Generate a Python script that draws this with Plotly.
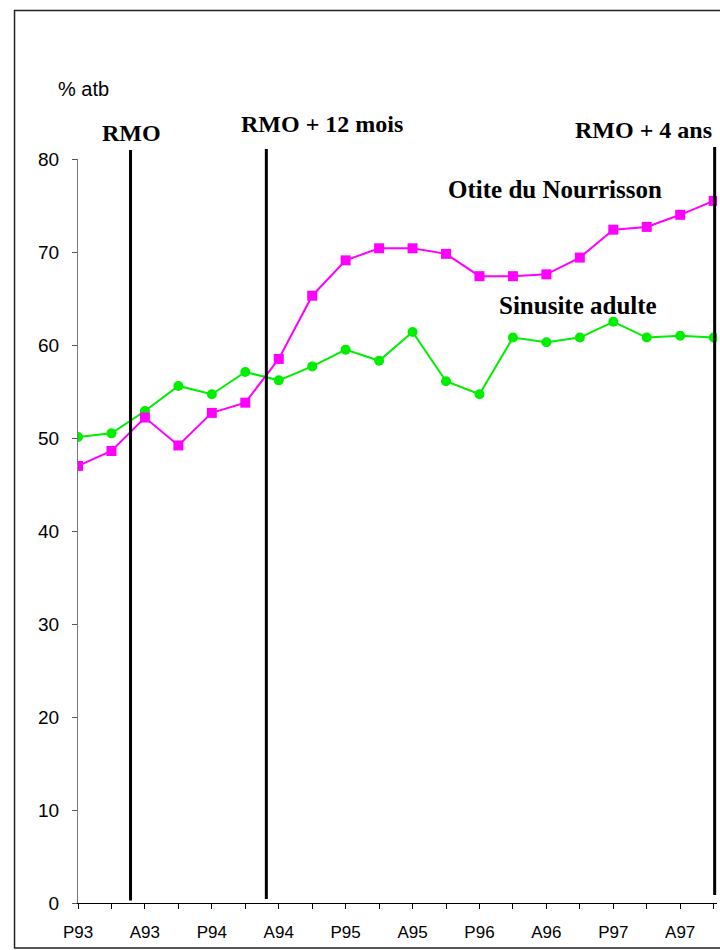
import plotly.graph_objects as go

# ---- data ----
tick_labels = ["P93", "", "A93", "", "P94", "", "A94", "", "P95", "", "A95", "",
               "P96", "", "A96", "", "P97", "", "A97", ""]
positions = list(range(len(tick_labels)))
otite = [47.0, 48.6, 52.2, 49.2, 52.7, 53.8, 58.5, 65.3, 69.1, 70.4,
         70.4, 69.8, 67.4, 67.4, 67.6, 69.4, 72.4, 72.7, 74.0, 75.5]
sinusite = [50.1, 50.5, 52.9, 55.6, 54.7, 57.1, 56.2, 57.7, 59.5, 58.3,
            61.4, 56.1, 54.7, 60.8, 60.3, 60.8, 62.5, 60.8, 61.0, 60.8]
events = ["RMO", "RMO + 12 mois", "RMO + 4 ans"]
event_pos = [1.57, 5.63, 19.03]
y_ticks = [0, 10, 20, 30, 40, 50, 60, 70, 80]

W, H = 720, 950
L, T, Bpix = 78, 159, 903   # plot left, top, bottom (px)
B = H - Bpix
xr = [0, 19.1]
unit = 636 / 19.0
pw = unit * (xr[1] - xr[0])
R = W - L - pw
ph = Bpix - T

def px(page_x):
    return (page_x - L) / pw

def py(page_y):
    return (Bpix - page_y) / ph

fig = go.Figure()
fig.add_trace(go.Scatter(
    x=positions, y=sinusite, mode="lines+markers", name="Sinusite adulte",
    line=dict(color="#00EE00", width=2),
    marker=dict(symbol="circle", size=10, color="#00EE00"),
    hoverinfo="skip", showlegend=False))
fig.add_trace(go.Scatter(
    x=positions, y=otite, mode="lines+markers", name="Otite du Nourrisson",
    line=dict(color="#FF00FF", width=2),
    marker=dict(symbol="square", size=10, color="#FF00FF"),
    hoverinfo="skip", showlegend=False))

# vertical event lines
tops = [150, 149, 147]
bots = [900.5, 899, 895]
for xp, t, b in zip(event_pos, tops, bots):
    fig.add_shape(type="line", xref="x", yref="paper", x0=xp, x1=xp,
                  y0=py(b), y1=py(t), line=dict(color="black", width=3),
                  layer="above")

ann = [
    ("<b>RMO</b>", 132, 133, 24),
    ("<b>RMO + 12 mois</b>", 322, 124, 24),
    ("<b>RMO + 4 ans</b>", 644, 130, 24),
    ("<b>Otite du Nourrisson</b>", 555, 190, 25),
    ("<b>Sinusite adulte</b>", 578, 305, 25),
]
for txt, cx, cy, fs in ann:
    fig.add_annotation(text=txt, xref="paper", yref="paper",
                       x=px(cx), y=py(cy), xanchor="center", yanchor="middle",
                       showarrow=False,
                       font=dict(family="Liberation Serif", size=fs, color="black"))

fig.add_annotation(text="% atb", xref="paper", yref="paper",
                   x=px(56), y=py(89), xanchor="left", yanchor="middle",
                   showarrow=False,
                   font=dict(family="Liberation Sans", size=20, color="black"))

# outer frame
fig.add_shape(type="rect", xref="paper", yref="paper",
              x0=px(14.5), x1=px(740), y0=py(948), y1=py(10.5),
              line=dict(color="#222222", width=1.5), layer="below")

fig.update_layout(
    width=W, height=H,
    margin=dict(l=L, r=R, t=T, b=B, pad=0),
    paper_bgcolor="white", plot_bgcolor="white",
    xaxis=dict(range=xr, tickmode="array", tickvals=positions, ticktext=tick_labels,
               showline=True, linecolor="black", linewidth=1,
               ticks="outside", ticklen=5, tickcolor="black", tickwidth=1,
               showgrid=False, zeroline=False,
               tickfont=dict(family="Liberation Sans", size=17, color="black"),
               ticklabelstandoff=9),
    yaxis=dict(range=[0, 80], tickmode="array", tickvals=y_ticks,
               showline=True, linecolor="#777777", linewidth=1,
               ticks="outside", ticklen=5, tickcolor="#555555", tickwidth=1,
               showgrid=False, zeroline=False,
               tickfont=dict(family="Liberation Sans", size=19, color="black"),
               ticklabelstandoff=9),
    xaxis2=dict(range=xr, overlaying="x", anchor="y", side="bottom",
                tickmode="array", tickvals=positions, showticklabels=False,
                ticks="inside", ticklen=5, tickcolor="black", tickwidth=1,
                showline=False, showgrid=False, zeroline=False),
    yaxis2=dict(range=[0, 80], overlaying="y", anchor="x", side="left",
                tickmode="array", tickvals=y_ticks, showticklabels=False,
                ticks="inside", ticklen=5, tickcolor="#555555", tickwidth=1,
                showline=False, showgrid=False, zeroline=False),
)

fig.write_html(
    "out.html",
    config={"displayModeBar": False},
    post_script="document.body.style.margin='0px';"
                "document.body.style.overflow='hidden';"
                "document.documentElement.style.overflow='hidden';")
